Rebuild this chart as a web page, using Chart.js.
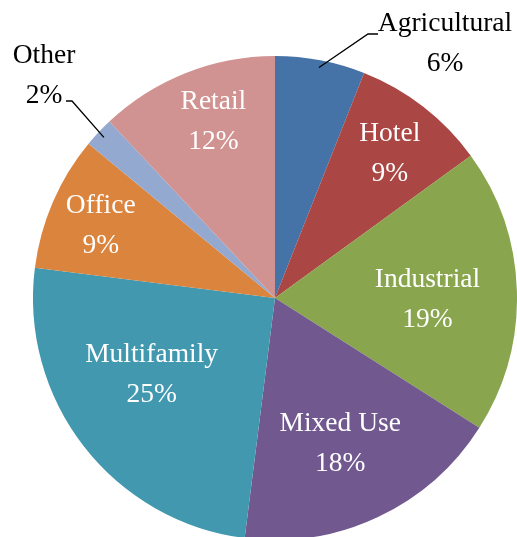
<!DOCTYPE html>
<html>
<head>
<meta charset="utf-8">
<script src="https://cdn.jsdelivr.net/npm/chart.js@4/dist/chart.umd.min.js"></script>
<style>
  html, body { margin: 0; padding: 0; background: #fff; overflow: hidden; }
  #wrap { width: 517px; height: 540px; }
</style>
</head>
<body>
<div id="wrap"><canvas id="pieChart"></canvas></div>
<script>
// Property type share of loans (%)
const categories = ['Agricultural', 'Hotel', 'Industrial', 'Mixed Use', 'Multifamily', 'Office', 'Other', 'Retail'];
const shares = [6, 9, 19, 18, 25, 9, 2, 12];
const sliceColors = ['#4572A7', '#AA4643', '#89A54E', '#71588F', '#4198AF', '#DB843D', '#93A9CF', '#D19392'];

const FONT = '27.5px "Liberation Serif", "DejaVu Serif", serif';
const LINE_GAP = 40;

// where each label sits: fraction of radius + angle nudge (deg) for inside labels, or an outside spot
const labelSpots = {
    'Agricultural': { outside: true, x: 445, y: 44, elbow: [368, 34], end: [378, 34] },
    'Other': { outside: true, x: 44, y: 76, elbow: [72, 101], end: [66, 101] },
    'Hotel': { r: 0.76, turn: 0.8 },
    'Industrial': { r: 0.63, turn: 2.5 },
    'Mixed Use': { r: 0.66, turn: 1.1 },
    'Multifamily': { r: 0.60, turn: 6 },
    'Office': { r: 0.78, turn: -0.8 },
    'Retail': { r: 0.77, turn: 2.3 }
};

const pieLabels = {
    id: 'pieLabels',
    afterDatasetsDraw(chart) {
        const ctx = chart.ctx;
        const meta = chart.getDatasetMeta(0);
        const total = shares.reduce((a, b) => a + b, 0);
        ctx.save();
        ctx.font = FONT;
        ctx.textAlign = 'center';
        ctx.textBaseline = 'middle';
        meta.data.forEach((arc, i) => {
            const name = categories[i];
            const pct = Math.round(shares[i] / total * 100) + '%';
            const spot = labelSpots[name];
            const mid = (arc.startAngle + arc.endAngle) / 2;
            if (spot.outside) {
                const ex = arc.x + Math.cos(mid) * arc.outerRadius * 0.97;
                const ey = arc.y + Math.sin(mid) * arc.outerRadius * 0.97;
                ctx.strokeStyle = '#000';
                ctx.lineWidth = 1.3;
                ctx.beginPath();
                ctx.moveTo(ex, ey);
                ctx.lineTo(spot.elbow[0], spot.elbow[1]);
                ctx.lineTo(spot.end[0], spot.end[1]);
                ctx.stroke();
                ctx.fillStyle = '#000';
                ctx.fillText(name, spot.x, spot.y - LINE_GAP / 2);
                ctx.fillText(pct, spot.x, spot.y + LINE_GAP / 2);
            } else {
                const a = mid + spot.turn * Math.PI / 180;
                const r = arc.outerRadius * spot.r;
                const x = arc.x + Math.cos(a) * r;
                const y = arc.y + Math.sin(a) * r;
                ctx.fillStyle = '#fff';
                ctx.fillText(name, x, y - LINE_GAP / 2);
                ctx.fillText(pct, x, y + LINE_GAP / 2);
            }
        });
        ctx.restore();
    }
};

new Chart(document.getElementById('pieChart'), {
    type: 'pie',
    data: {
        labels: categories,
        datasets: [{
            data: shares,
            backgroundColor: sliceColors,
            borderWidth: 0
        }]
    },
    options: {
        responsive: true,
        maintainAspectRatio: false,
        animation: false,
        layout: { padding: { left: 33, right: 0, top: 56, bottom: 0 } },
        plugins: {
            legend: { display: false },
            tooltip: { enabled: false }
        }
    },
    plugins: [pieLabels]
});
</script>
</body>
</html>
